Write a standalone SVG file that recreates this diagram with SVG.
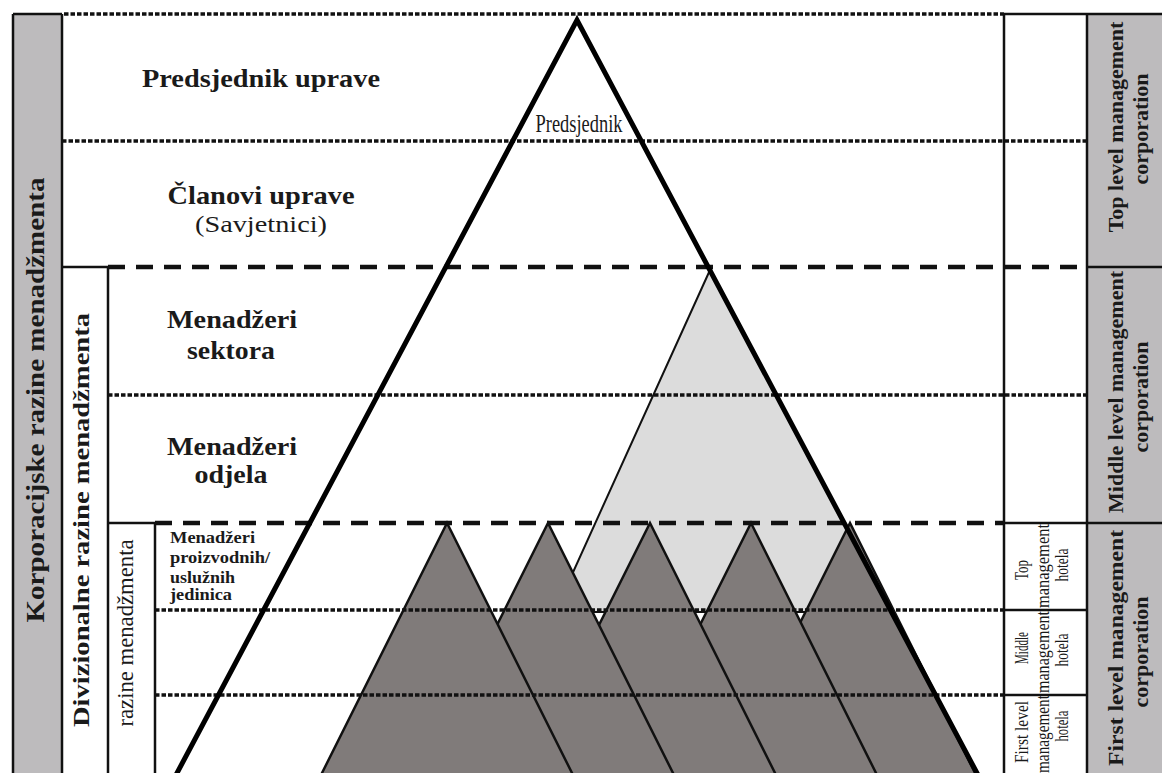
<svg xmlns="http://www.w3.org/2000/svg" width="1162" height="773" viewBox="0 0 1162 773">
<style>
.t{font-family:"Liberation Serif","Times New Roman",serif;fill:#1a1a1a}
.b{font-weight:bold}
.dot{stroke:#111;stroke-width:3.5;stroke-dasharray:4.5 2;fill:none}
.dash{stroke:#111;stroke-width:4.5;stroke-dasharray:17 11;fill:none}
.ln{stroke:#111;stroke-width:2.5;fill:none}
.dark{fill:#807b7a;stroke:#111;stroke-width:2.5;stroke-linejoin:miter}
.grey{fill:#bdbbbd}
</style>
<rect width="1162" height="773" fill="#fff"/>
<g id="columns-fill">
<rect class="grey" x="13" y="14" width="49" height="770"/>
<rect class="grey" x="1087" y="14" width="80" height="770"/>
</g>
<g id="light-triangle">
<polygon points="710,270 555,612 891,612" fill="#dcdcdc" stroke="#111" stroke-width="2"/>
</g>
<g id="unit-triangles">
<polygon id="unit5" class="dark" points="716.5,790 850,523 983.5,790"/>
<polygon id="unit4" class="dark" points="617.5,790 751,523 884.5,790"/>
<polygon id="unit3" class="dark" points="516.5,790 650,523 783.5,790"/>
<polygon id="unit2" class="dark" points="414.5,790 548,523 681.5,790"/>
<polygon id="unit1" class="dark" points="313.5,790 447,523 580.5,790"/>
</g>
<g id="connectors">
<line class="dot" x1="64" y1="14" x2="1004" y2="14"/>
<line class="dot" x1="62" y1="141" x2="1087" y2="141"/>
<line class="dot" x1="108" y1="395" x2="1087" y2="395"/>
<line class="dot" x1="155" y1="610" x2="1004" y2="610"/>
<line class="dot" x1="155" y1="695" x2="1004" y2="695"/>
<line class="dash" x1="108" y1="267" x2="1087" y2="267"/>
<line class="dash" x1="155" y1="523" x2="1004" y2="523"/>
<line class="ln" x1="13" y1="14" x2="62" y2="14"/>
<line class="ln" x1="13" y1="14" x2="13" y2="773"/>
<line class="ln" x1="62" y1="14" x2="62" y2="773"/>
<line class="ln" x1="62" y1="267" x2="108" y2="267"/>
<line class="ln" x1="108" y1="267" x2="108" y2="773"/>
<line class="ln" x1="108" y1="523" x2="155" y2="523"/>
<line class="ln" x1="155" y1="523" x2="155" y2="773"/>
<line class="ln" x1="1004" y1="14" x2="1162" y2="14"/>
<line class="ln" x1="1004" y1="14" x2="1004" y2="773"/>
<line class="ln" x1="1087" y1="14" x2="1087" y2="773" stroke-width="3"/>
<line class="ln" x1="1087" y1="267" x2="1162" y2="267" stroke-width="3"/>
<line class="ln" x1="1004" y1="523" x2="1162" y2="523" stroke-width="3"/>
<line class="ln" x1="1004" y1="610" x2="1087" y2="610"/>
<line class="ln" x1="1004" y1="695" x2="1087" y2="695"/>
</g>
<g id="main-triangle">
<polyline points="168,790 577,20 986,790" fill="none" stroke="#000" stroke-width="5" stroke-linejoin="miter"/>
</g>
<g id="label-predsjednik-uprave">
<text class="t b" x="261" y="87" font-size="25" text-anchor="middle" textLength="238" lengthAdjust="spacingAndGlyphs">Predsjednik uprave</text>
</g>
<g id="label-predsjednik">
<text class="t" x="579" y="132" font-size="26" text-anchor="middle" textLength="87" lengthAdjust="spacingAndGlyphs">Predsjednik</text>
</g>
<g id="label-clanovi">
<text class="t b" x="261" y="204" font-size="25" text-anchor="middle" textLength="187" lengthAdjust="spacingAndGlyphs">Članovi uprave</text>
<text class="t" x="261" y="232" font-size="24" text-anchor="middle" textLength="132" lengthAdjust="spacingAndGlyphs">(Savjetnici)</text>
</g>
<g id="label-sektora">
<text class="t b" x="232" y="328" font-size="25" text-anchor="middle" textLength="130" lengthAdjust="spacingAndGlyphs">Menadžeri</text>
<text class="t b" x="231" y="359" font-size="25" text-anchor="middle" textLength="88" lengthAdjust="spacingAndGlyphs">sektora</text>
</g>
<g id="label-odjela">
<text class="t b" x="232" y="455" font-size="25" text-anchor="middle" textLength="130" lengthAdjust="spacingAndGlyphs">Menadžeri</text>
<text class="t b" x="231" y="483" font-size="25" text-anchor="middle" textLength="73" lengthAdjust="spacingAndGlyphs">odjela</text>
</g>
<g id="label-jedinica">
<text class="t b" x="170" y="543" font-size="16" textLength="85" lengthAdjust="spacingAndGlyphs">Menadžeri</text>
<text class="t b" x="170" y="563" font-size="16" textLength="100" lengthAdjust="spacingAndGlyphs">proizvodnih/</text>
<text class="t b" x="170" y="583" font-size="16" textLength="65" lengthAdjust="spacingAndGlyphs">uslužnih</text>
<text class="t b" x="170" y="600" font-size="16" textLength="62" lengthAdjust="spacingAndGlyphs">jedinica</text>
</g>
<g id="col-korporacijske">
<text class="t b" transform="translate(44,400) rotate(-90)" font-size="25" text-anchor="middle" textLength="445" lengthAdjust="spacingAndGlyphs">Korporacijske razine menadžmenta</text>
</g>
<g id="col-divizionalne">
<text class="t b" transform="translate(89,520) rotate(-90)" font-size="24" text-anchor="middle" textLength="414" lengthAdjust="spacingAndGlyphs">Divizionalne razine menadžmenta</text>
</g>
<g id="col-razine">
<text class="t" transform="translate(133,633) rotate(-90)" font-size="24" text-anchor="middle" textLength="187" lengthAdjust="spacingAndGlyphs">razine menadžmenta</text>
</g>
<g id="col-top">
<text class="t b" transform="translate(1123,127) rotate(-90)" font-size="22" text-anchor="middle">Top level management</text>
<text class="t b" transform="translate(1148,129) rotate(-90)" font-size="22" text-anchor="middle">corporation</text>
</g>
<g id="col-middle">
<text class="t b" transform="translate(1123,392) rotate(-90)" font-size="22" text-anchor="middle">Middle level management</text>
<text class="t b" transform="translate(1148,397) rotate(-90)" font-size="22" text-anchor="middle">corporation</text>
</g>
<g id="col-first">
<text class="t b" transform="translate(1123,648) rotate(-90)" font-size="22" text-anchor="middle" textLength="236" lengthAdjust="spacingAndGlyphs">First level management</text>
<text class="t b" transform="translate(1148,652) rotate(-90)" font-size="22" text-anchor="middle">corporation</text>
</g>
<g id="hotel-top">
<text class="t" transform="translate(1028,570) rotate(-90)" font-size="18" text-anchor="middle" textLength="20" lengthAdjust="spacingAndGlyphs">Top</text>
<text class="t" transform="translate(1049,566) rotate(-90)" font-size="18" text-anchor="middle" textLength="84" lengthAdjust="spacingAndGlyphs">management</text>
<text class="t" transform="translate(1068,565) rotate(-90)" font-size="18" text-anchor="middle" textLength="33" lengthAdjust="spacingAndGlyphs">hotela</text>
</g>
<g id="hotel-middle">
<text class="t" transform="translate(1028,648) rotate(-90)" font-size="18" text-anchor="middle" textLength="32" lengthAdjust="spacingAndGlyphs">Middle</text>
<text class="t" transform="translate(1049,652) rotate(-90)" font-size="18" text-anchor="middle" textLength="82" lengthAdjust="spacingAndGlyphs">management</text>
<text class="t" transform="translate(1068,650) rotate(-90)" font-size="18" text-anchor="middle" textLength="33" lengthAdjust="spacingAndGlyphs">hotela</text>
</g>
<g id="hotel-first">
<text class="t" transform="translate(1028,732) rotate(-90)" font-size="18" text-anchor="middle" textLength="62" lengthAdjust="spacingAndGlyphs">First level</text>
<text class="t" transform="translate(1049,734) rotate(-90)" font-size="18" text-anchor="middle" textLength="78" lengthAdjust="spacingAndGlyphs">management</text>
<text class="t" transform="translate(1068,726) rotate(-90)" font-size="18" text-anchor="middle" textLength="31" lengthAdjust="spacingAndGlyphs">hotela</text>
</g>
</svg>
